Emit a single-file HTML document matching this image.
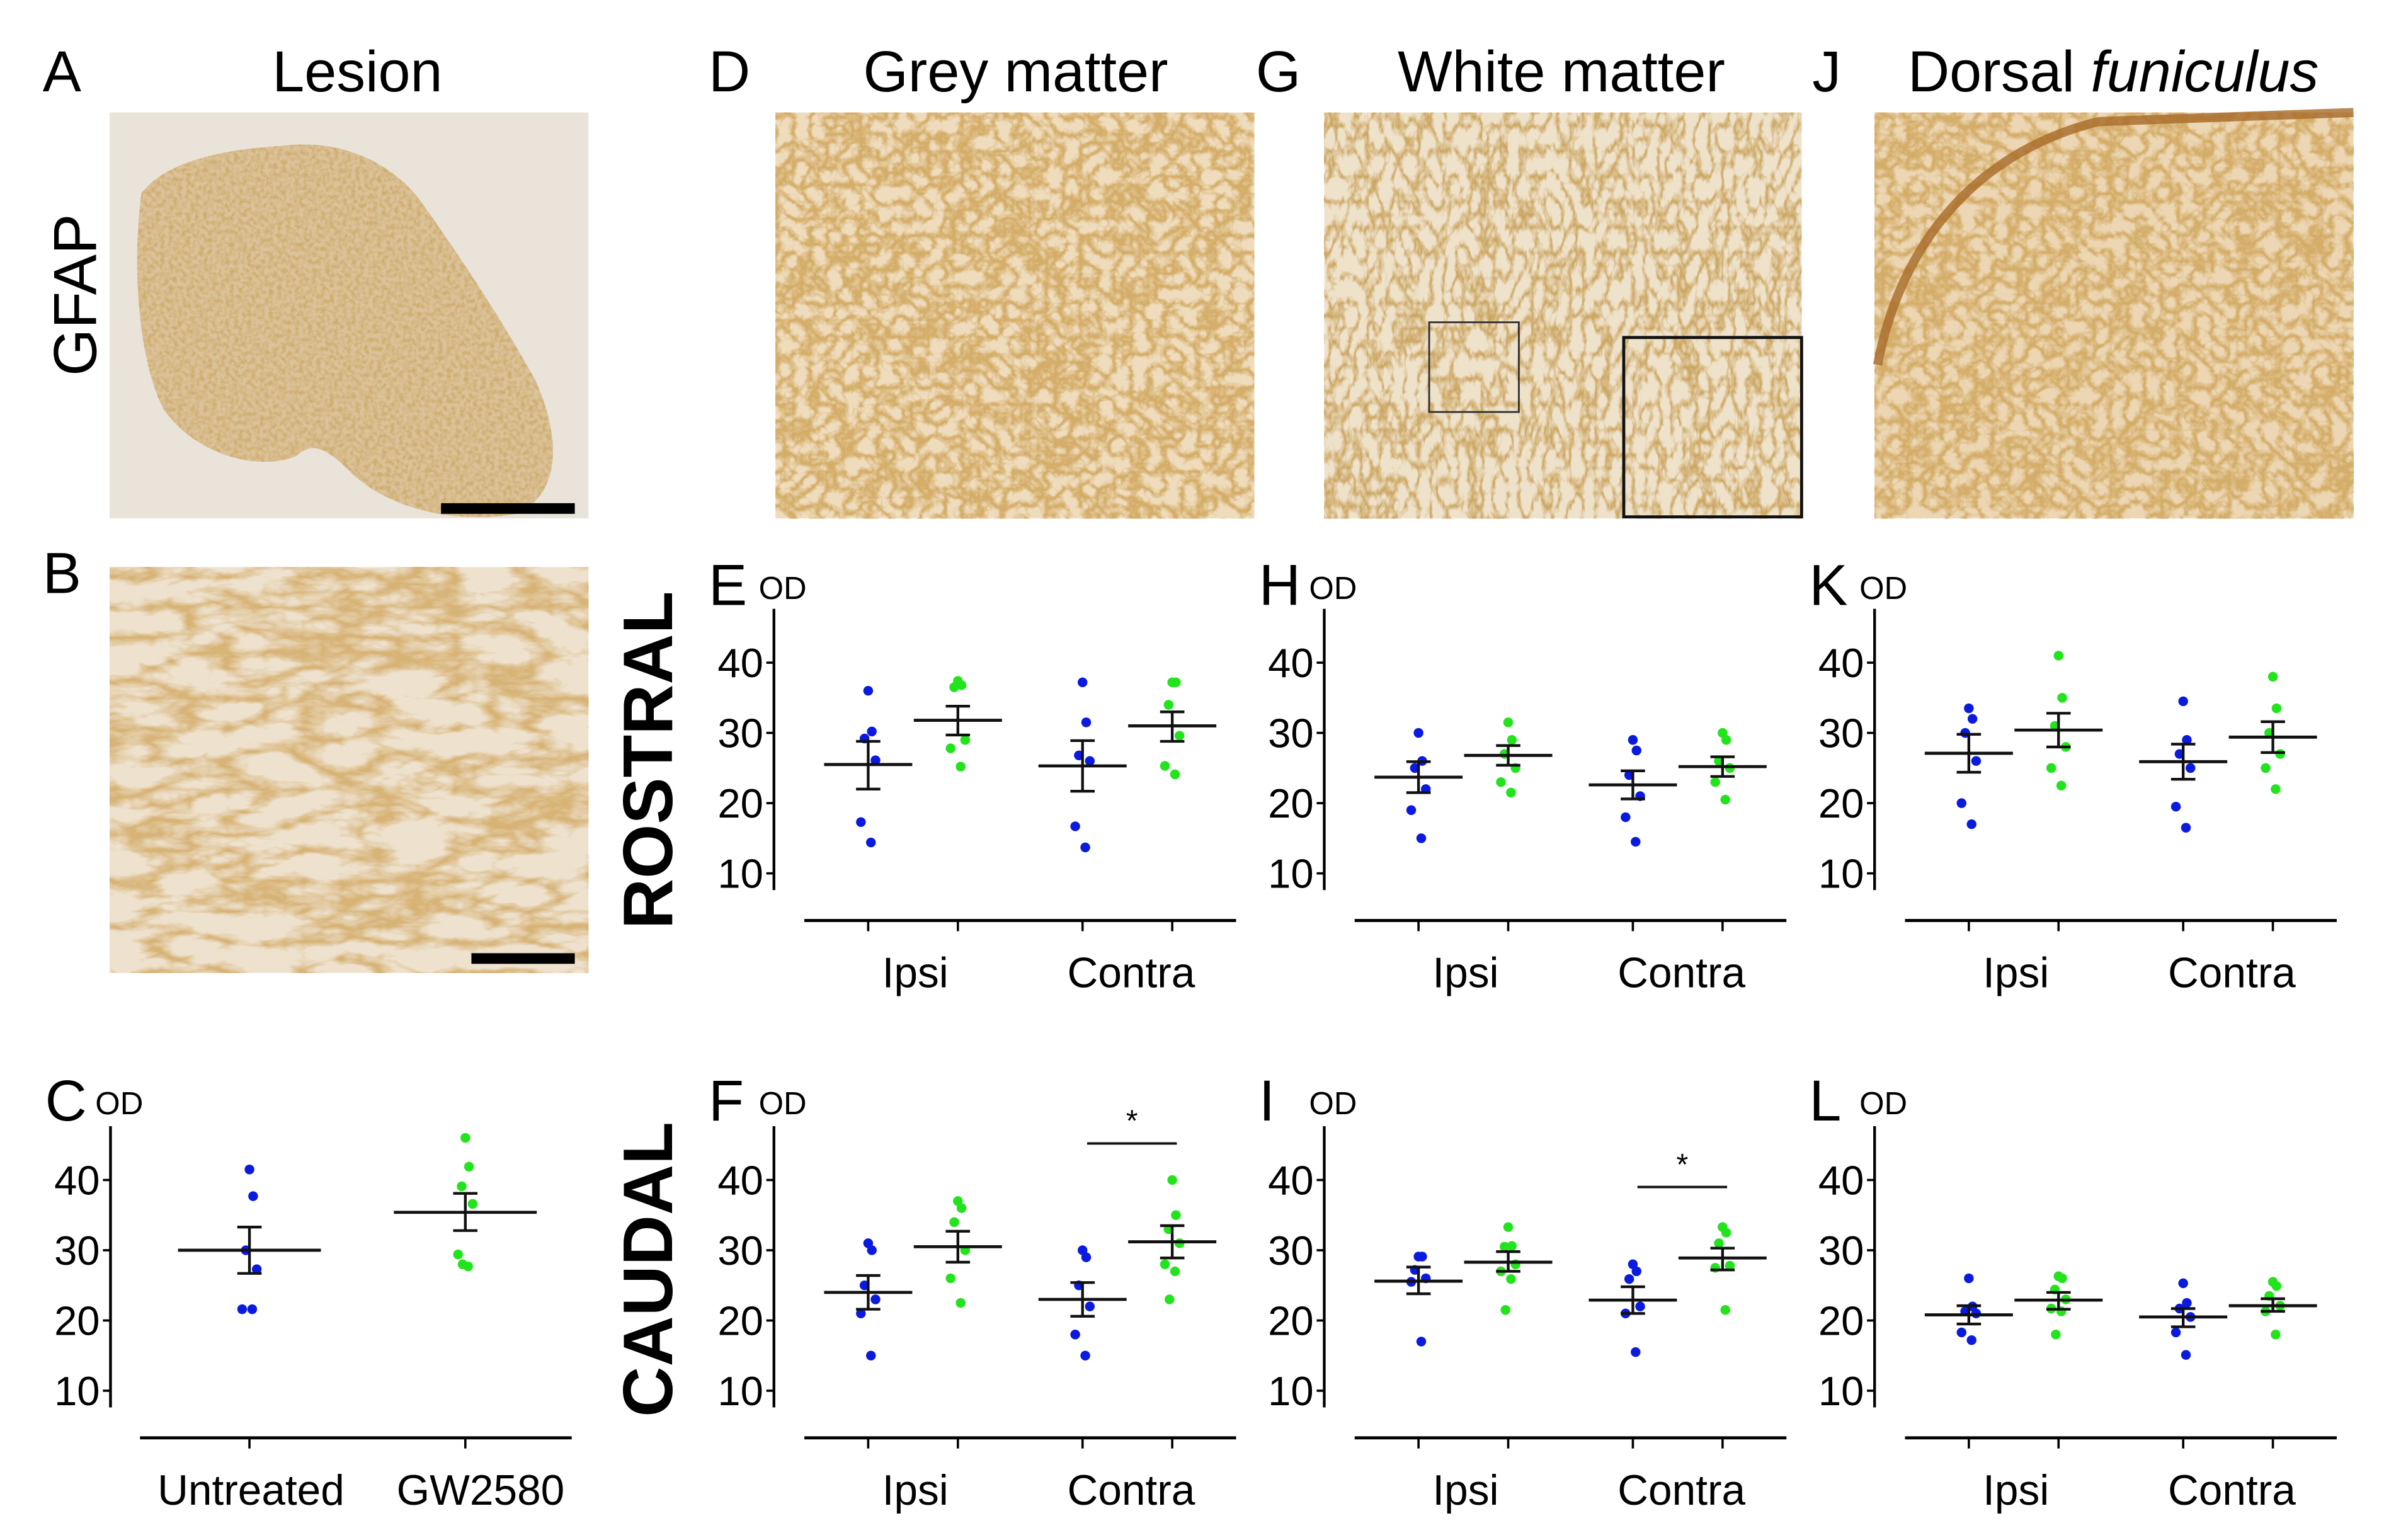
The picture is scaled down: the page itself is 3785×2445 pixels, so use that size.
<!DOCTYPE html>
<html><head><meta charset="utf-8">
<style>
html,body{margin:0;padding:0;background:#fff;}
svg{display:block;font-family:"Liberation Sans",sans-serif;}
</style></head>
<body>
<svg id="fig" width="3785" height="2445" viewBox="0 0 1568 1013" xmlns="http://www.w3.org/2000/svg">
<defs>
  <filter id="texA" x="0" y="0" width="100%" height="100%">
    <feTurbulence type="fractalNoise" baseFrequency="0.35" numOctaves="2" seed="3"/>
    <feColorMatrix values="0 0 0 0 0.62  0 0 0 0 0.42  0 0 0 0 0.16  2.6 0 0 0 -0.95"/>
  </filter>
  <filter id="texD" x="0" y="0" width="100%" height="100%">
    <feTurbulence type="turbulence" baseFrequency="0.09" numOctaves="3" seed="7"/>
    <feColorMatrix values="0 0 0 0 0.66  0 0 0 0 0.42  0 0 0 0 0.14  -3 0 0 0 1.35"/>
  </filter>
  <filter id="texG" x="0" y="0" width="100%" height="100%">
    <feTurbulence type="turbulence" baseFrequency="0.12 0.06" numOctaves="3" seed="11"/>
    <feColorMatrix values="0 0 0 0 0.6  0 0 0 0 0.38  0 0 0 0 0.12  -3 0 0 0 1.15"/>
  </filter>
  <filter id="texB" x="0" y="0" width="100%" height="100%">
    <feTurbulence type="turbulence" baseFrequency="0.02 0.05" numOctaves="4" seed="5"/>
    <feColorMatrix values="0 0 0 0 0.68  0 0 0 0 0.45  0 0 0 0 0.18  -3.2 0 0 0 1.3"/>
  </filter>
  <clipPath id="clipA"><path d="M93,127 C110,105 150,98 185,96 C215,92 250,100 275,130 C300,165 330,210 352,250 C370,290 368,325 340,338 C300,345 255,335 230,310 C215,295 205,290 195,300 C170,310 130,300 108,270 C92,240 86,180 93,127 Z"/></clipPath>
</defs>

<!-- Titles -->
<g font-size="38" fill="#000">
  <text x="28" y="60">A</text>
  <text x="235" y="60" text-anchor="middle">Lesion</text>
  <text x="466" y="60">D</text>
  <text x="668" y="60" text-anchor="middle">Grey matter</text>
  <text x="826" y="60">G</text>
  <text x="1027" y="60" text-anchor="middle">White matter</text>
  <text x="1192" y="60">J</text>
  <text x="1390" y="60" text-anchor="middle">Dorsal <tspan font-style="italic">funiculus</tspan></text>
  <text x="28" y="390">B</text>
</g>
<text transform="translate(63,194) rotate(-90)" text-anchor="middle" font-size="40">GFAP</text>
<text transform="translate(442,500) rotate(-90)" text-anchor="middle" font-size="46" font-weight="bold">ROSTRAL</text>
<text transform="translate(442,835) rotate(-90)" text-anchor="middle" font-size="46" font-weight="bold">CAUDAL</text>

<!-- Micrographs -->
<g>
  <rect x="72" y="74" width="315" height="267" fill="#e9e3da"/>
  <g clip-path="url(#clipA)">
    <rect x="72" y="74" width="315" height="267" fill="#dcc29a"/>
    <rect x="72" y="74" width="315" height="267" filter="url(#texA)"/>
  </g>
  <rect x="290" y="331" width="88" height="7" fill="#000"/>
</g>
<g>
  <rect x="72" y="373" width="315" height="267" fill="#eee2cf"/>
  <rect x="72" y="373" width="315" height="267" filter="url(#texB)"/>
  <rect x="310" y="627" width="68" height="7" fill="#000"/>
</g>
<g>
  <rect x="510" y="74" width="315" height="267" fill="#efdcbd"/>
  <rect x="510" y="74" width="315" height="267" filter="url(#texD)"/>
</g>
<g>
  <rect x="871" y="74" width="314" height="267" fill="#efe2cb"/>
  <rect x="871" y="74" width="314" height="267" filter="url(#texG)"/>
  <rect x="940" y="212" width="59" height="59" fill="none" stroke="#333" stroke-width="1.2"/>
  <rect x="1068" y="222" width="117" height="118" fill="none" stroke="#111" stroke-width="2"/>
</g>
<g>
  <rect x="1233" y="74" width="315" height="267" fill="#ecd6b3"/>
  <rect x="1233" y="74" width="315" height="267" filter="url(#texD)"/>
  <path d="M1235,240 C1250,160 1300,100 1380,80 L1548,74" fill="none" stroke="#a86a28" stroke-width="6" opacity="0.8"/>
</g>

<g id="charts"></g>

<script>
// ---------- data ----------
const groupsOD = ["Ipsi", "Contra"];
const groupsC = ["Untreated", "GW2580"];
const yTicks = [10, 20, 30, 40];

// Panel C
const cBlue = [41.5, 37.7, 30, 27.3, 21.6, 21.6];
const cGreen = [46, 41.9, 39.1, 36.6, 29.4, 27.7, 28];
const cMeans = [30, 35.4];
const cErrLo = [26.7, 32.8];
const cErrHi = [33.3, 38.1];

// Panel E (rostral grey)
const eIpsiBlue = [36, 30.2, 29.2, 26.1, 17.3, 14.4];
const eIpsiGreen = [37.4, 36.8, 36.5, 29, 27.8, 25.2];
const eContraBlue = [37.2, 31.5, 26.8, 26, 16.7, 13.7];
const eContraGreen = [37.2, 37.2, 34, 29.6, 25.3, 24.1];
const eMeans = [25.5, 31.8, 25.3, 31];
const eErrLo = [22, 29.7, 21.7, 28.8];
const eErrHi = [28.8, 33.8, 28.9, 33];

// Panel H (rostral white)
const hIpsiBlue = [30, 26, 25, 22, 19, 15];
const hIpsiGreen = [31.5, 29, 27, 25, 23, 21.5];
const hContraBlue = [29, 27.5, 24, 21, 18, 14.5];
const hContraGreen = [30, 29, 26, 25, 23, 20.5];
const hMeans = [23.7, 26.8, 22.6, 25.2];
const hErrLo = [21.5, 25.4, 20.6, 23.8];
const hErrHi = [25.9, 28.2, 24.6, 26.6];

// Panel K (rostral dorsal funiculus)
const kIpsiBlue = [33.5, 32, 30, 26, 20, 17];
const kIpsiGreen = [41, 35, 31, 28, 25, 22.5];
const kContraBlue = [34.5, 29, 27, 25, 19.5, 16.5];
const kContraGreen = [38, 33.5, 30, 27, 25, 22];
const kMeans = [27.1, 30.4, 25.9, 29.4];
const kErrLo = [24.4, 28, 23.4, 27.2];
const kErrHi = [29.8, 32.8, 28.4, 31.6];

// Panel F (caudal grey)
const fIpsiBlue = [31, 30, 25, 23, 21, 15];
const fIpsiGreen = [37, 36, 34, 30, 26, 22.5];
const fContraBlue = [30, 29, 25, 22, 18, 15];
const fContraGreen = [40, 35, 33, 31, 28, 27, 23];
const fMeans = [24, 30.5, 23, 31.2];
const fErrLo = [21.6, 28.3, 20.6, 28.9];
const fErrHi = [26.4, 32.7, 25.4, 33.5];

// Panel I (caudal white)
const iIpsiBlue = [29.1, 29.1, 27.2, 26, 25.5, 17];
const iIpsiGreen = [33.3, 30.6, 30.5, 28, 27, 25.9, 21.5];
const iContraBlue = [28, 27, 25.9, 22, 21, 15.5];
const iContraGreen = [33.3, 32.5, 31, 27.8, 27.5, 21.5];
const iMeans = [25.6, 28.3, 22.9, 28.9];
const iErrLo = [23.8, 27, 21, 27.2];
const iErrHi = [27.6, 29.8, 24.8, 30.3];

// Panel L (caudal dorsal funiculus)
const lIpsiBlue = [26, 22, 21.3, 21, 18.3, 17.2];
const lIpsiGreen = [26.3, 26, 24.4, 23, 21.7, 21.3, 18];
const lContraBlue = [25.3, 22.5, 21.7, 20.5, 18.3, 15.1];
const lContraGreen = [25.5, 24.9, 23.5, 22.1, 21.3, 18];
const lMeans = [20.8, 22.9, 20.5, 22.1];
const lErrLo = [19.5, 21.6, 19.1, 21.3];
const lErrHi = [22.1, 24, 21.7, 23.1];

// significance brackets: [value level]
const fSig = [45.2];
const iSig = [39];

// ---------- drawing ----------
const NS = "http://www.w3.org/2000/svg";
const root = document.getElementById("charts");
function mk(tag, attrs, parent) {
  const e = document.createElementNS(NS, tag);
  for (const k in attrs) e.setAttribute(k, attrs[k]);
  (parent || root).appendChild(e);
  return e;
}
const jit = [0, 4, -4, 8, -8, 3, -3];

function chart(cfg) {
  const g = mk("g", {});
  
  
  const ax = cfg.ax, y10 = cfg.y10, ppu = 4.62;
  const yScale = v => y10 - (v - 10) * ppu;
  // letter + OD
  const L = mk("text", {x: ax - 43, y: cfg.lblY, "font-size": 38}, g);
  L.textContent = cfg.letter;
  
  
  const od = mk("text", {x: ax - 10, y: cfg.lblY - 4, "font-size": 21}, g);
  od.textContent = "OD";
  
  
  // y axis
  const ya = mk("line", {x1: ax, x2: ax, y1: y10 - 174, y2: y10 + 11, stroke: "#000", "stroke-width": 1.8}, g);
  
  
  yTicks.forEach(t => {
    const y = yScale(t);
    mk("line", {x1: ax - 5, x2: ax, y1: y, y2: y, stroke: "#000", "stroke-width": 1.5}, g);
    const tl = mk("text", {x: ax - 7, y: y + 9.5, "font-size": 27, "text-anchor": "end"}, g);
    tl.textContent = t;
    
    
  });
  // x axis
  const xa = mk("line", {x1: cfg.xa0, x2: cfg.xa1, y1: y10 + 31, y2: y10 + 31, stroke: "#000", "stroke-width": 2}, g);
  
  
  cfg.pos.forEach(px => mk("line", {x1: px, x2: px, y1: y10 + 31, y2: y10 + 38, stroke: "#000", "stroke-width": 1.5}, g));
  cfg.groups.forEach((gname, i) => {
    const t = mk("text", {x: cfg.labelX[i], y: y10 + 75, "font-size": 28, "text-anchor": "middle"}, g);
    t.textContent = gname;
    
    
  });
  // series
  cfg.series.forEach((arr, si) => {
    const cx = cfg.pos[si];
    const col = si % 2 === 0 ? "#0a1adf" : "#22e41c";
    arr.forEach((v, k) => {
      const c = mk("circle", {cx: cx + jit[k % jit.length] * 0.6, cy: yScale(v), r: 3.2, fill: col}, g);
      
      
    });
    const m = cfg.means[si], lo = cfg.lo[si], hi = cfg.hi[si];
    const ml = mk("line", {x1: cx - cfg.mw, x2: cx + cfg.mw, y1: yScale(m), y2: yScale(m), stroke: "#111", "stroke-width": 2}, g);
    
    
    mk("line", {x1: cx, x2: cx, y1: yScale(lo), y2: yScale(hi), stroke: "#111", "stroke-width": 1.8}, g);
    mk("line", {x1: cx - 8, x2: cx + 8, y1: yScale(lo), y2: yScale(lo), stroke: "#111", "stroke-width": 1.8}, g);
    mk("line", {x1: cx - 8, x2: cx + 8, y1: yScale(hi), y2: yScale(hi), stroke: "#111", "stroke-width": 1.8}, g);
  });
  if (cfg.sig) {
    const sy = yScale(cfg.sig[0]);
    const sl = mk("line", {x1: cfg.pos[2] + 3, x2: cfg.pos[3] + 3, y1: sy, y2: sy, stroke: "#111", "stroke-width": 1.6}, g);
    
    
    const st = mk("text", {x: (cfg.pos[2] + cfg.pos[3]) / 2 + 3, y: sy - 8, "font-size": 20, "text-anchor": "middle"}, g);
    st.textContent = "*";
    
    
  }
}

function odChart(name, letter, ax, y10, lblY, s, means, lo, hi, sig) {
  chart({name, letter, ax, y10, lblY, groups: groupsOD,
    xa0: ax + 20, xa1: ax + 304,
    pos: [ax + 62, ax + 121, ax + 203, ax + 262],
    labelX: [ax + 93, ax + 235],
    series: s, means, lo, hi, mw: 29, sig});
}
const R10 = 574.5, C10 = 914.8;
odChart("chart-e-rostral-grey", "E", 509, R10, 398, [eIpsiBlue, eIpsiGreen, eContraBlue, eContraGreen], eMeans, eErrLo, eErrHi);
odChart("chart-h-rostral-white", "H", 871, R10, 398, [hIpsiBlue, hIpsiGreen, hContraBlue, hContraGreen], hMeans, hErrLo, hErrHi);
odChart("chart-k-rostral-dorsal", "K", 1233, R10, 398, [kIpsiBlue, kIpsiGreen, kContraBlue, kContraGreen], kMeans, kErrLo, kErrHi);
odChart("chart-f-caudal-grey", "F", 509, C10, 737, [fIpsiBlue, fIpsiGreen, fContraBlue, fContraGreen], fMeans, fErrLo, fErrHi, fSig);
odChart("chart-i-caudal-white", "I", 871, C10, 737, [iIpsiBlue, iIpsiGreen, iContraBlue, iContraGreen], iMeans, iErrLo, iErrHi, iSig);
odChart("chart-l-caudal-dorsal", "L", 1233, C10, 737, [lIpsiBlue, lIpsiGreen, lContraBlue, lContraGreen], lMeans, lErrLo, lErrHi);
chart({name: "chart-c-lesion", letter: "C", ax: 72.6, y10: C10, lblY: 737, groups: groupsC,
  xa0: 92, xa1: 376, pos: [164, 306], labelX: [165, 316],
  series: [cBlue, cGreen], means: cMeans, lo: cErrLo, hi: cErrHi, mw: 47});
</script>
</svg>
</body></html>
